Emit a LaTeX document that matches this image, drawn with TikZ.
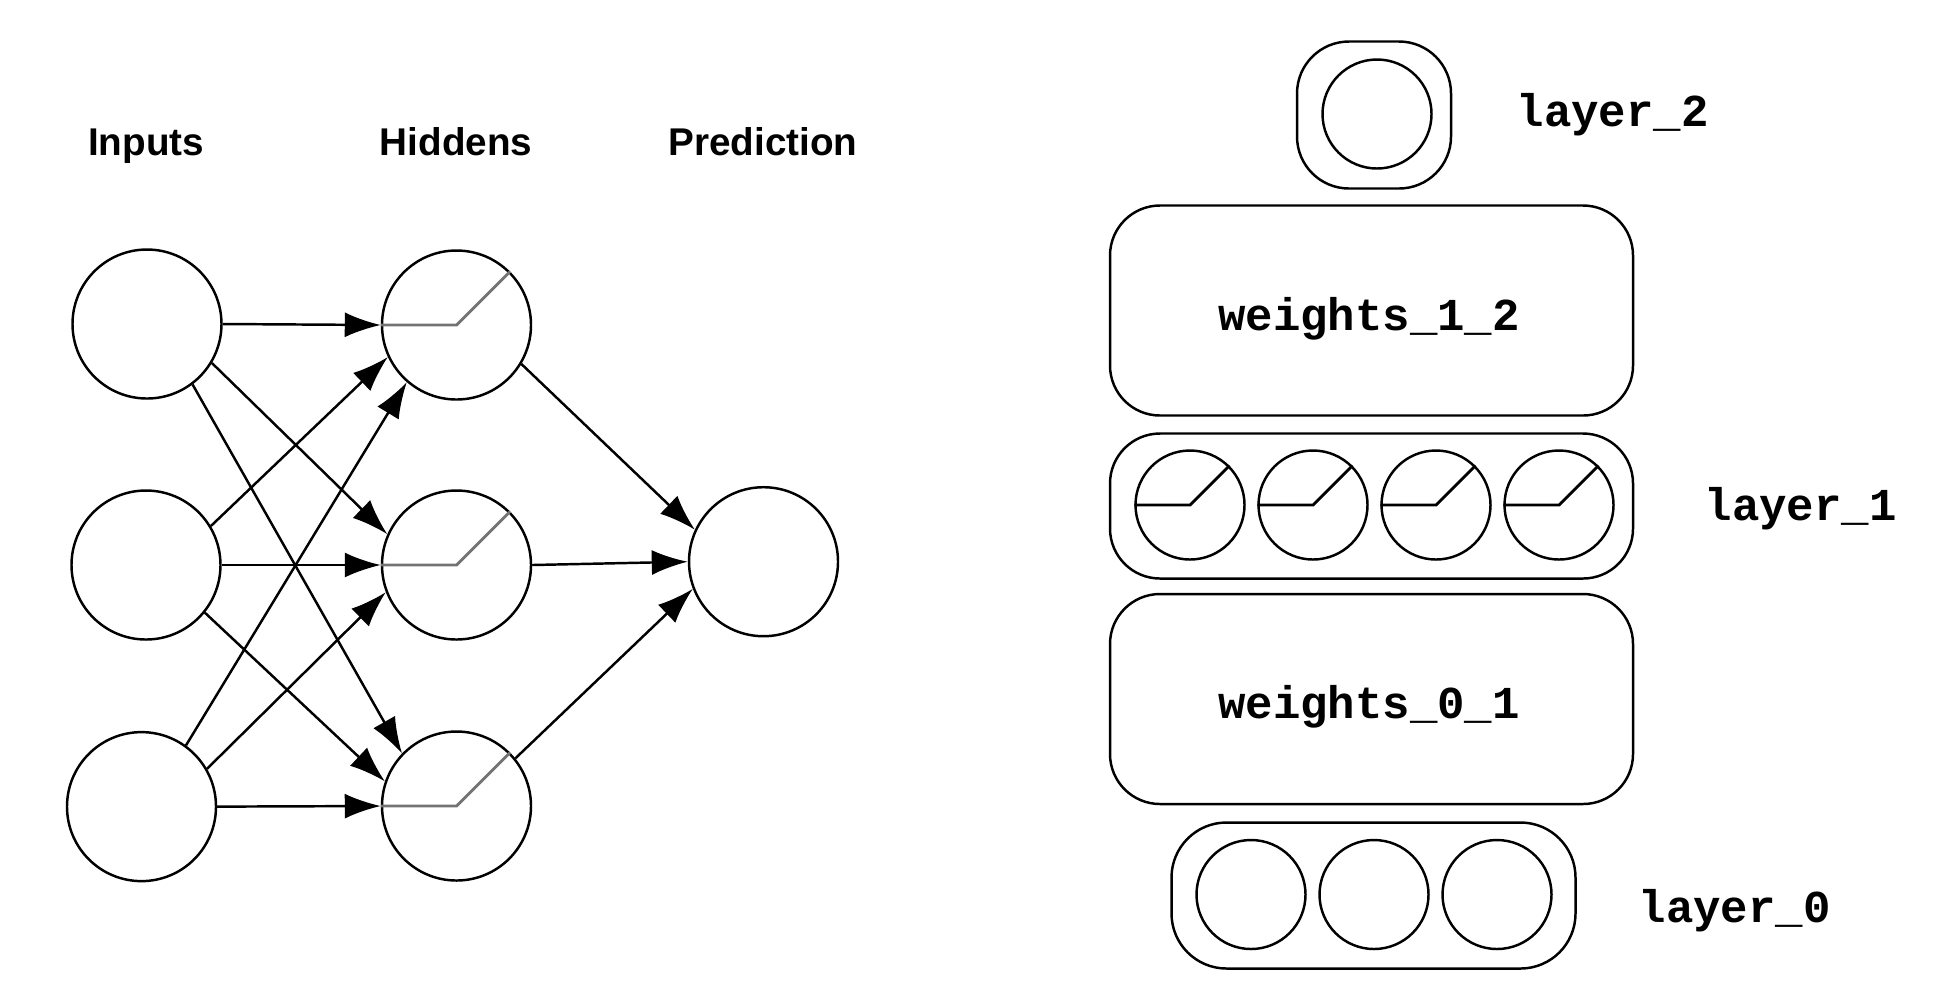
\documentclass[tikz,border=0pt]{standalone}
\usepackage{fontspec}
\setmainfont{Liberation Sans}
\setmonofont{Liberation Mono}
\usepackage{xcolor}
\usepackage{tikz}
\usetikzlibrary{arrows.meta}

\tikzset{
  neuron/.style={draw, circle, line width=0.7pt, minimum size=1.49cm, inner sep=0pt},
  cell/.style={draw, circle, line width=0.7pt, fill=white, minimum size=1.09cm, inner sep=0pt},
  block/.style={draw, rectangle, rounded corners=0.5cm, line width=0.7pt, minimum width=5.23cm},
  conn/.style={-{Latex[length=0.36cm,width=0.25cm]}, line width=0.7pt},
  relu/.style={line width=0.8pt},
  title/.style={font=\fontsize{11}{13}\selectfont\bfseries, anchor=base},
  code/.style={font=\fontsize{13}{15}\selectfont\ttfamily\bfseries, inner sep=0pt},
}

\begin{document}
\begin{tikzpicture}
        \useasboundingbox (0,0) rectangle (19.38,-9.98);

        % Left: the network
        \node[title] (tin) at (1.46,-1.55) {Inputs};
        \node[title] (thid) at (4.56,-1.55) {Hiddens};
        \node[title] (tpred) at (7.63,-1.55) {Prediction};

        \node[neuron] (i1) at (1.47,-3.24) {};
        \node[neuron] (i2) at (1.46,-5.65) {};
        \node[neuron] (i3) at (1.415,-8.066) {};
        \node[neuron] (h1) at (4.565,-3.25) {};
        \node[neuron] (h2) at (4.565,-5.65) {};
        \node[neuron] (h3) at (4.565,-8.06) {};
        \node[neuron] (p) at (7.635,-5.617) {};

        \foreach \s/\t in {i1.east/h1.west, i1.-31/h2.156, i1.-53/h3.136,
                           i2.31/h1.205, i2.east/h2.west, i2.-39/h3.161,
                           i3.54/h1.229, i3.30/h2.201, i3.east/h3.west,
                           h1.-31/p.155, h2.east/p.west, h3.39/p.201}
            \draw[conn] (\s) -- (\t);
        \foreach \b in {h1,h2,h3}
            \draw[relu, black!55] (\b.west) -- (\b.center) -- (\b.45);

        % Right: the layers as blocks
        \node[draw, rectangle, rounded corners=0.52cm, line width=0.7pt, minimum width=1.54cm, minimum height=1.47cm] (l2box) at (13.74,-1.15) {};
        \node[cell] (o1) at (13.77,-1.14) {};
        \node[code, anchor=base west] (l2lab) at (15.16,-1.26) {layer\_2};

        \node[block, minimum height=2.1cm] (w12) at (13.715,-3.105) {};
        \node[code, anchor=base] (w12lab) at (13.69,-3.30) {weights\_1\_2};

        \node[block, minimum height=1.45cm] (l1box) at (13.715,-5.06) {};
        \foreach \x [count=\n] in {11.90,13.13,14.36,15.59} {
            \node[cell] (c\n) at (\x,-5.05) {};
            \draw[relu] (c\n.west) -- (c\n.center) -- (c\n.45);
        }
        \node[code, anchor=base west] (l1lab) at (17.04,-5.20) {layer\_1};

        \node[block, minimum height=2.1cm] (w01) at (13.715,-6.99) {};
        \node[code, anchor=base] (w01lab) at (13.69,-7.18) {weights\_0\_1};

        \node[draw, rectangle, rounded corners=0.55cm, line width=0.7pt, minimum width=4.04cm, minimum height=1.46cm] (l0box) at (13.735,-8.955) {};
        \foreach \x [count=\n] in {12.51,13.74,14.97}
            \node[cell] (x\n) at (\x,-8.945) {};
        \node[code, anchor=base west] (l0lab) at (16.38,-9.22) {layer\_0};
\end{tikzpicture}
\end{document}
